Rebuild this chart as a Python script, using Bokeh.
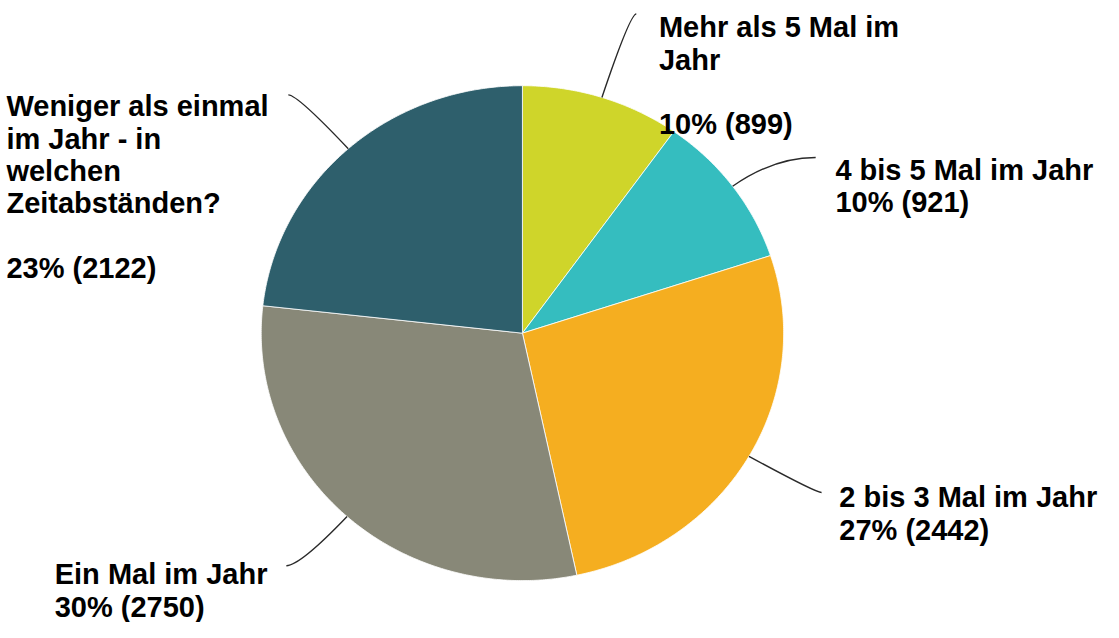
import math
from bokeh.plotting import figure
from bokeh.models import Range1d, ColumnDataSource
from bokeh.core.properties import value
from bokeh.embed import file_html
from bokeh.resources import INLINE

# ---- data ----
categories = ["Mehr als 5 Mal im Jahr", "4 bis 5 Mal im Jahr", "2 bis 3 Mal im Jahr",
              "Ein Mal im Jahr", "Weniger als einmal im Jahr - in welchen Zeitabständen?"]
counts = [899, 921, 2442, 2750, 2122]
percents = ["10%", "10%", "27%", "30%", "23%"]
colors = ["#CFD52A", "#35BDBF", "#F5AE20", "#888878", "#2E5F6C"]
label_lines = [
    ["Mehr als 5 Mal im", "Jahr", ""],
    ["4 bis 5 Mal im Jahr"],
    ["2 bis 3 Mal im Jahr"],
    ["Ein Mal im Jahr"],
    ["Weniger als einmal", "im Jahr - in", "welchen", "Zeitabständen?", ""],
]

# ---- layout (reference-page coordinates, y downward) ----
W, H = 1103, 622
CX, CY, RX, RY = 529.5, 345.5, 265, 257
label_pos = [(668, 28), (847, 176), (851, 516), (55, 596), (6, 110)]   # left x, first baseline
leader_end = [(645, 14), (827, 163), (833, 511), (290, 587), (292, 98)]
LINE_H = 33.5
FONT = "29px"

p = figure(width=W, height=H, output_backend="svg", toolbar_location=None,
           x_range=Range1d(0, 1119), y_range=Range1d(-646, 0),
           min_border=0, outline_line_color=None)
p.axis.visible = False
p.grid.visible = False
p.background_fill_color = "white"
p.border_fill_color = "white"

total = sum(counts)
xs_list, ys_list, mids = [], [], []
acc = 0
for c in counts:
    a0 = math.pi / 2 - 2 * math.pi * acc / total
    acc += c
    a1 = math.pi / 2 - 2 * math.pi * acc / total
    n = max(8, int(abs(a1 - a0) * 120))
    px = [CX]
    py = [-CY]
    for k in range(n + 1):
        a = a0 + (a1 - a0) * k / n
        px.append(CX + RX * math.cos(a))
        py.append(-CY + RY * math.sin(a))
    xs_list.append(px)
    ys_list.append(py)
    mids.append((a0 + a1) / 2)

src = ColumnDataSource(dict(xs=xs_list, ys=ys_list, color=colors, cat=categories))
p.patches(xs="xs", ys="ys", fill_color="color", line_color="white", line_width=0.8, source=src)

# leader lines: radial from slice middle, bending horizontally into the label
for m, (ex, ey) in zip(mids, leader_end):
    dx, dy = math.cos(m), math.sin(m)
    x0, y0 = CX + RX * dx, -CY + RY * dy
    t = ((-ey) - y0) / dy
    cx, cy = x0 + t * dx * RX / RY, -ey
    p.quadratic(x0=[x0], y0=[y0], x1=[ex], y1=[-ey], cx=[cx], cy=[cy],
                line_color="#2a2a2a", line_width=1.4)

# labels
xs, ys, texts = [], [], []
for lines, cnt, pct, (lx, ly) in zip(label_lines, counts, percents, label_pos):
    all_lines = lines + [f"{pct} ({cnt})"]
    for i, ln in enumerate(all_lines):
        if ln:
            xs.append(lx)
            ys.append(-(ly + i * LINE_H))
            texts.append(ln)
p.text(x=xs, y=ys, text=texts, text_font=value("Liberation Sans"), text_font_style="bold",
       text_font_size=FONT, text_color="#000000", text_align="left", text_baseline="alphabetic")

open("out.html", "w").write(file_html(p, INLINE))
